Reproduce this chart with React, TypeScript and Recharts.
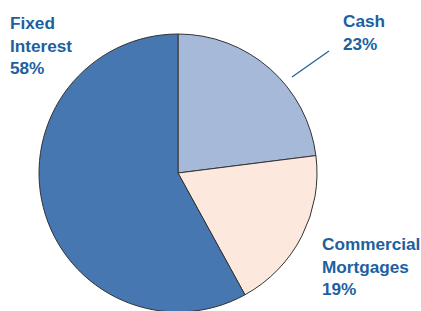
import React from "react";
import { PieChart, Pie, Cell } from "recharts";

const categories = ["Cash", "Commercial Mortgages", "Fixed Interest"];
const values = [23, 19, 58];
const labelLines = [["Cash", "23%"], ["Commercial", "Mortgages", "19%"], ["Fixed", "Interest", "58%"]];

const colors = ["#a6b9d9", "#fde8dd", "#4677b0"];
const labelPos = [
  { x: 343, y: 27 },
  { x: 322, y: 250 },
  { x: 10, y: 29 },
];
const TEXT = "#1d5f9f";

const data = categories.map((name, i) => ({ name, value: values[i] }));

const renderLabel = (props: any) => {
  const i = props.index;
  const p = labelPos[i];
  return (
    <g key={`lbl-${i}`}>
      <text
        x={p.x}
        y={p.y}
        fill={TEXT}
        fontFamily="Liberation Sans, Arial, sans-serif"
        fontWeight="bold"
        fontSize={17.2}
        textAnchor="start"
      >
        {labelLines[i].map((t, j) => (
          <tspan key={j} x={p.x} dy={j === 0 ? 0 : 22.5}>
            {t}
          </tspan>
        ))}
      </text>
      {i === 0 ? (
        <line x1={292} y1={77} x2={329} y2={51} stroke={TEXT} strokeWidth={1.2} />
      ) : null}
    </g>
  );
};

export default function App() {
  return (
    <div style={{ position: "absolute", left: 0, top: 0, background: "#fff" }}>
      <PieChart width={421} height={311} margin={{ top: 0, right: 0, bottom: 0, left: 0 }}>
        <Pie
          data={data}
          dataKey="value"
          nameKey="name"
          cx={178}
          cy={173}
          outerRadius={139}
          startAngle={90}
          endAngle={-270}
          stroke="#333"
          strokeWidth={1}
          label={renderLabel}
          labelLine={false}
          isAnimationActive={false}
        >
          {data.map((d, i) => (
            <Cell key={d.name} fill={colors[i]} />
          ))}
        </Pie>
      </PieChart>
    </div>
  );
}
